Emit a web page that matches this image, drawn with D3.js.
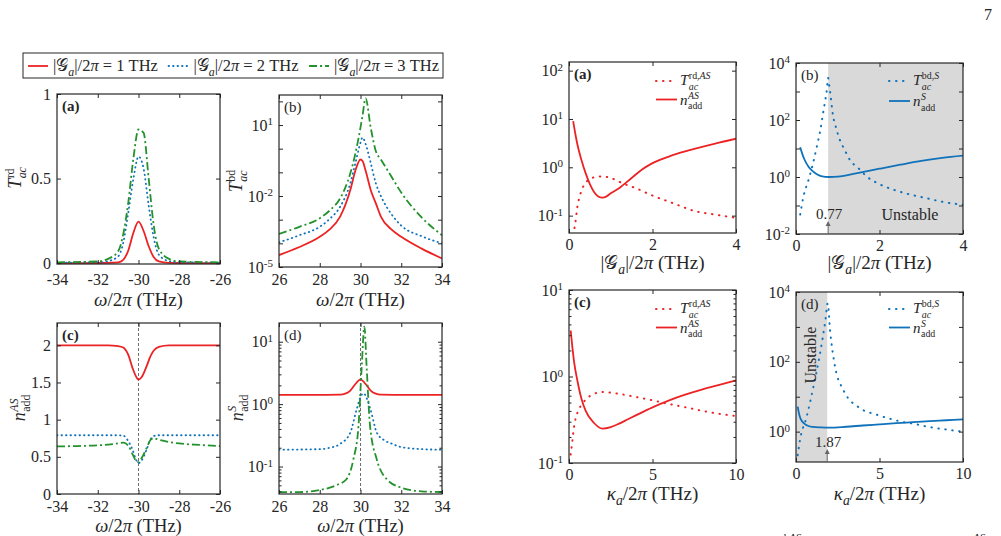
<!DOCTYPE html>
<html>
<head>
<meta charset="utf-8">
<title>Transmission and added noise</title>
<script src="https://cdn.jsdelivr.net/npm/d3@7"></script>
<style>
  body { margin: 0; background: #fff; }
  text { font-family: "Liberation Serif", Times, "Times New Roman", "DejaVu Serif", serif; fill: #262626; }
</style>
</head>
<body>
<svg id="fig" width="1001" height="536"></svg>
<script>
// ---------- data ----------
// left block (a): T_ac^rd vs omega/2pi
const LA_X     = [-34, -32, -31.5, -31, -30.75, -30.5, -30.25, -30, -29.75, -29.5, -29.25, -29, -28.5, -28, -26];
const LA_RED   = [0, 0.001, 0.002, 0.005, 0.02, 0.075, 0.18, 0.245, 0.19, 0.1, 0.035, 0.01, 0.002, 0.001, 0];
const LA_BLUE  = [0.003, 0.005, 0.012, 0.04, 0.12, 0.3, 0.5, 0.63, 0.56, 0.34, 0.15, 0.05, 0.012, 0.005, 0.003];
const LA_GREEN = [0.005, 0.01, 0.025, 0.07, 0.17, 0.36, 0.62, 0.79, 0.77, 0.5, 0.22, 0.085, 0.025, 0.01, 0.005];

// left block (b): T_ac^bd (log)
const LB_X     = [26, 27, 28, 28.5, 29, 29.5, 29.75, 30, 30.1, 30.25, 30.5, 30.75, 31, 31.5, 32, 33, 34];
const LB_RED   = [3.2e-5, 7e-5, 1.9e-4, 4e-4, 1.35e-3, 1.8e-2, 0.12, 0.35, 0.3, 0.12, 1.8e-2, 5e-3, 1.35e-3, 4e-4, 1.9e-4, 6e-5, 2.3e-5];
const LB_BLUE  = [1.1e-4, 2.2e-4, 5e-4, 1.1e-3, 3.5e-3, 3.5e-2, 0.25, 1.8, 3.0, 1.6, 0.25, 3.5e-2, 1e-2, 1.8e-3, 5.6e-4, 2e-4, 1e-4];
const LB_GREEN = [2.5e-4, 5e-4, 1.15e-3, 2.5e-3, 7.9e-3, 9.1e-2, 0.63, 7.9, 25, 135, 7.9, 0.8, 0.35, 7e-2, 1.4e-2, 1.25e-3, 2.2e-4];

// left block (c): n_add^AS
const LC_X     = [-34, -33, -32, -31.5, -31, -30.75, -30.5, -30.3, -30.1, -30, -29.85, -29.6, -29.4, -29.25, -29, -28.5, -28, -27, -26];
const LC_RED   = [2, 2, 2, 2, 1.99, 1.97, 1.87, 1.7, 1.57, 1.54, 1.57, 1.72, 1.86, 1.93, 1.98, 2, 2, 2, 2];
const LC_BLUE  = [0.79, 0.79, 0.79, 0.79, 0.79, 0.785, 0.71, 0.6, 0.45, 0.415, 0.45, 0.6, 0.74, 0.78, 0.79, 0.79, 0.79, 0.79, 0.79];
const LC_GREEN = [0.64, 0.645, 0.655, 0.665, 0.68, 0.69, 0.65, 0.54, 0.44, 0.43, 0.48, 0.62, 0.73, 0.75, 0.73, 0.7, 0.68, 0.66, 0.645];

// left block (d): n_add^S (log)
const LD_RED_X   = [26, 28, 29, 29.25, 29.5, 29.75, 30, 30.25, 30.5, 30.75, 31, 32, 34];
const LD_RED     = [1.41, 1.41, 1.42, 1.47, 1.65, 2.1, 2.5, 2.1, 1.65, 1.47, 1.42, 1.41, 1.41];
const LD_BLUE_X  = [26, 28, 28.5, 29, 29.5, 29.8, 30, 30.15, 30.3, 30.5, 30.8, 31.2, 31.5, 32, 33, 34];
const LD_BLUE    = [0.186, 0.19, 0.2, 0.23, 0.35, 0.8, 1.3, 1.5, 1.25, 0.8, 0.35, 0.26, 0.235, 0.205, 0.19, 0.186];
const LD_GREEN_X = [26, 27, 28, 28.8, 29.3, 29.65, 29.9, 30.06, 30.19, 30.3, 30.47, 30.8, 31.3, 32, 33, 34];
const LD_GREEN   = [0.039, 0.039, 0.042, 0.05, 0.062, 0.13, 0.44, 4, 17.5, 4, 0.44, 0.13, 0.062, 0.046, 0.04, 0.039];

// right block (a): vs |G_a|/2pi
const RA_N_X = [0.1, 0.15, 0.2, 0.3, 0.4, 0.5, 0.6, 0.7, 0.8, 0.9, 1.0, 1.2, 1.5, 1.75, 2, 2.5, 3, 3.5, 4];
const RA_N   = [9, 5, 3, 1.4, 0.75, 0.45, 0.31, 0.25, 0.235, 0.25, 0.29, 0.37, 0.6, 0.9, 1.22, 1.8, 2.4, 3.1, 3.9];
const RA_T_X = [0.1, 0.15, 0.2, 0.3, 0.4, 0.6, 0.8, 1.0, 1.3, 1.6, 2.0, 2.5, 3, 3.5, 4];
const RA_T   = [0.04, 0.07, 0.15, 0.33, 0.48, 0.62, 0.65, 0.6, 0.46, 0.37, 0.26, 0.18, 0.125, 0.105, 0.09];

// right block (b)
const RB_N_X = [0.1, 0.15, 0.2, 0.3, 0.4, 0.5, 0.6, 0.8, 1.0, 1.5, 2, 2.5, 3, 3.5, 4];
const RB_N   = [11, 6.5, 4.2, 2.3, 1.6, 1.25, 1.08, 1.0, 1.03, 1.4, 1.95, 2.7, 3.7, 4.7, 5.6];
const RB_T_X = [0.1, 0.18, 0.3, 0.41, 0.5, 0.57, 0.65, 0.69, 0.74, 0.77, 0.8, 0.82, 0.89, 0.95, 1.05, 1.15, 1.29, 1.5, 1.69, 2, 2.33, 2.7, 3.13, 3.5, 4];
const RB_T   = [0.048, 0.21, 0.8, 3.1, 12, 35, 178, 400, 1200, 3000, 1500, 900, 134, 60, 20, 10, 4, 2, 1.05, 0.56, 0.36, 0.25, 0.18, 0.135, 0.107];

// right block (c): vs kappa_a/2pi
const RC_N_X = [0.1, 0.2, 0.3, 0.5, 0.75, 1, 1.5, 2, 2.5, 3, 3.5, 4, 5, 6, 7, 8, 9, 10];
const RC_N   = [3.4, 2.2, 1.5, 0.9, 0.55, 0.4, 0.29, 0.25, 0.26, 0.285, 0.318, 0.355, 0.44, 0.53, 0.62, 0.71, 0.8, 0.9];
const RC_T_X = [0.1, 0.2, 0.3, 0.5, 0.75, 1, 1.5, 2, 3, 4, 5, 6, 7, 8, 9, 10];
const RC_T   = [0.125, 0.18, 0.26, 0.38, 0.47, 0.54, 0.63, 0.66, 0.63, 0.58, 0.53, 0.48, 0.44, 0.4, 0.37, 0.35];

// right block (d)
const RD_N_X = [0.1, 0.2, 0.3, 0.5, 0.75, 1, 1.5, 2, 3, 4, 5, 6, 7, 8, 9, 10];
const RD_N   = [5.2, 3, 2.2, 1.7, 1.45, 1.37, 1.32, 1.3, 1.38, 1.5, 1.62, 1.75, 1.87, 2.0, 2.12, 2.25];
const RD_T_X = [0.1, 0.24, 0.64, 1.04, 1.44, 1.76, 1.9, 2.04, 2.34, 2.84, 3.83, 4.8, 5.83, 6.5, 7, 7.82, 9, 10];
const RD_T   = [0.21, 0.58, 2.7, 19, 174, 1550, 4700, 800, 72, 15.5, 4.7, 3.1, 2.2, 1.85, 1.7, 1.4, 1.15, 1.0];

// thresholds of the unstable regions
const G_CRIT = 0.77, K_CRIT = 1.87;
const G_LEGEND = ["1", "2", "3"];

// ---------- drawing ----------
const FONT = '"Liberation Serif", Times, "Times New Roman", "DejaVu Serif", serif';
const RED = "#ec2324", BLUE = "#0f72ba", GREEN = "#23922c", AXC = "#262626";
const TL = 4, TLM = 2.5;
const svg = d3.select("#fig");
let clipN = 0;

// text made of tspans: kinds n (roman), i (italic), subi, subn
function rich(parent, x, y, parts, fs) {
  const t = parent.append("text").attr("x", x).attr("y", y).style("font-size", fs + "px").style("font-family", FONT);
  let shift = 0;
  parts.forEach(([s, k]) => {
    const sp = t.append("tspan").text(s);
    let target = 0, size = fs;
    if (k.startsWith("sub")) { target = fs * 0.28; size = fs * 0.72; }
    sp.style("font-style", k.endsWith("i") ? "italic" : "normal").style("font-size", size + "px");
    if (target !== shift) { sp.attr("dy", target - shift); shift = target; }
  });
  return t;
}

// italic base letter with stacked sub and superscript, returns width
function scripted(g, x, y, base, sub, sup, fs) {
  const b = g.append("text").attr("x", x).attr("y", y).style("font-family", FONT)
    .style("font-size", fs + "px").style("font-style", "italic").text(base);
  const w = b.node().getComputedTextLength();
  let m = 0;
  [[sub, fs * 0.3], [sup, -fs * 0.4]].forEach(([pp, dy]) => {
    const t = g.append("text").attr("x", x + w + 0.5).attr("y", y + dy)
      .style("font-family", FONT).style("font-size", (fs * 0.66) + "px");
    pp.forEach(([str, it]) => t.append("tspan").style("font-style", it ? "italic" : "normal").text(str));
    m = Math.max(m, t.node().getComputedTextLength());
  });
  return w + 0.5 + m;
}

function centered(cx, cy, rot, build) {
  const g = svg.append("g").attr("transform", `translate(${cx},${cy}) rotate(${rot})`);
  const inner = g.append("g");
  const w = build(inner);
  inner.attr("transform", `translate(${-w / 2},0)`);
}

function minors(a, b) { const r = []; for (let e = a; e <= b; e++) for (let k = 2; k <= 9; k++) r.push(k * Math.pow(10, e)); return r; }

function panel(o) {
  const x = d3.scaleLinear().domain(o.xDom).range([o.left, o.left + o.w]);
  const y = (o.log ? d3.scaleLog() : d3.scaleLinear()).domain(o.yDom).range([o.top + o.h, o.top]);
  const id = "clip" + (clipN++);
  svg.append("clipPath").attr("id", id).append("rect")
    .attr("x", o.left).attr("y", o.top).attr("width", o.w).attr("height", o.h);
  const g = svg.append("g");
  if (o.shade) g.append("rect").attr("x", x(o.shade[0])).attr("y", o.top)
    .attr("width", x(o.shade[1]) - x(o.shade[0])).attr("height", o.h).attr("fill", "#d9d9d9");
  if (o.vline != null) g.append("line").attr("x1", x(o.vline)).attr("x2", x(o.vline))
    .attr("y1", o.top).attr("y2", o.top + o.h)
    .attr("stroke", "#6e6e6e").attr("stroke-width", 1).attr("stroke-dasharray", "3,2");

  const line = d3.line().x(d => x(d[0])).y(d => y(d[1])).curve(d3.curveMonotoneX);
  o.series.forEach(s => {
    g.append("path").datum(s.x.map((v, i) => [v, s.y[i]]))
      .attr("d", line).attr("clip-path", `url(#${id})`)
      .attr("fill", "none").attr("stroke", s.color).attr("stroke-width", s.sw || 1.8)
      .attr("stroke-dasharray", s.dash || null)
      .attr("stroke-linecap", s.dot ? "round" : "butt");
  });

  const styleAx = a => a.attr("font-family", FONT).attr("font-size", 16).attr("color", AXC)
    .call(q => q.select(".domain").remove());
  svg.append("g").attr("transform", `translate(0,${o.top + o.h})`)
    .call(d3.axisBottom(x).tickValues(o.xt).tickSize(-TL).tickPadding(o.xpad || 9).tickFormat(d => String(d)))
    .call(styleAx);
  svg.append("g").attr("transform", `translate(0,${o.top})`)
    .call(d3.axisTop(x).tickValues(o.xt).tickSize(-TL).tickFormat(""))
    .call(styleAx);
  const yl = svg.append("g").attr("transform", `translate(${o.left},0)`)
    .call(d3.axisLeft(y).tickValues(o.yt).tickSize(-TL).tickPadding(6).tickFormat(o.log ? () => "" : d => String(d)))
    .call(styleAx);
  if (o.log) yl.selectAll(".tick text").each(function (d) {
    const t = d3.select(this);
    t.append("tspan").text("10");
    t.append("tspan").attr("dy", "-0.5em").style("font-size", "11px").text(String(Math.round(Math.log10(d))));
  });
  if (o.ymaj) svg.append("g").attr("transform", `translate(${o.left},0)`)
    .call(d3.axisLeft(y).tickValues(o.ymaj).tickSize(-TL).tickFormat("")).call(styleAx);
  if (o.ymin) svg.append("g").attr("transform", `translate(${o.left},0)`)
    .call(d3.axisLeft(y).tickValues(o.ymin).tickSize(-TLM).tickFormat("")).call(styleAx);
  svg.append("g").attr("transform", `translate(${o.left + o.w},0)`)
    .call(d3.axisRight(y).tickValues(o.yt.concat(o.ymaj || [])).tickSize(-TL).tickFormat("")).call(styleAx);
  if (o.ymin) svg.append("g").attr("transform", `translate(${o.left + o.w},0)`)
    .call(d3.axisRight(y).tickValues(o.ymin).tickSize(-TLM).tickFormat("")).call(styleAx);

  svg.append("rect").attr("x", o.left).attr("y", o.top).attr("width", o.w).attr("height", o.h)
    .attr("fill", "none").attr("stroke", AXC).attr("stroke-width", 1.2);
  svg.append("text").attr("x", o.left + 5).attr("y", o.top + 17).style("font-family", FONT)
    .style("font-size", "15px").style("font-weight", o.bold ? "bold" : "normal").text(o.tag);
  if (o.extra) o.extra(x, y);
  return { x, y };
}

const dotL = { dash: "0.5,4", dot: true };
const dotR = { dash: "0.5,6.5", dot: true, sw: 2 };
const dashDot = { dash: "8,3,2,3" };

// ----- left block -----
panel({ left: 57, top: 94, w: 163, h: 170, xDom: [-34, -26], yDom: [-0.005, 1],
  xt: [-34, -32, -30, -28, -26], yt: [0, 0.5, 1], tag: "(a)", bold: true, xpad: 10,
  series: [
    { x: LA_X, y: LA_RED, color: RED },
    Object.assign({ x: LA_X, y: LA_BLUE, color: BLUE }, dotL),
    Object.assign({ x: LA_X, y: LA_GREEN, color: GREEN }, dashDot)
  ] });
panel({ left: 279, top: 95, w: 163, h: 172, xDom: [26, 34], yDom: [1e-5, 186], log: true,
  xt: [26, 28, 30, 32, 34], yt: [1e-5, 1e-2, 10], ymaj: [1e-4, 1e-3, 0.1, 1, 100], tag: "(b)", xpad: 7,
  series: [
    { x: LB_X, y: LB_RED, color: RED },
    Object.assign({ x: LB_X, y: LB_BLUE, color: BLUE }, dotL),
    Object.assign({ x: LB_X, y: LB_GREEN, color: GREEN }, dashDot)
  ] });
panel({ left: 57, top: 323, w: 163, h: 171, xDom: [-34, -26], yDom: [0, 2.3],
  xt: [-34, -32, -30, -28, -26], yt: [0, 0.5, 1, 1.5, 2], tag: "(c)", bold: true, vline: -30, xpad: 7,
  series: [
    { x: LC_X, y: LC_RED, color: RED },
    Object.assign({ x: LC_X, y: LC_BLUE, color: BLUE }, dotL),
    Object.assign({ x: LC_X, y: LC_GREEN, color: GREEN }, dashDot)
  ] });
panel({ left: 279, top: 323, w: 163, h: 171, xDom: [26, 34], yDom: [0.0363, 19.95], log: true,
  xt: [26, 28, 30, 32, 34], yt: [0.1, 1, 10], ymin: minors(-2, 1).filter(v => v > 0.0363 && v < 19.95),
  tag: "(d)", vline: 30, xpad: 7,
  series: [
    { x: LD_RED_X, y: LD_RED, color: RED },
    Object.assign({ x: LD_BLUE_X, y: LD_BLUE, color: BLUE }, dotL),
    Object.assign({ x: LD_GREEN_X, y: LD_GREEN, color: GREEN }, dashDot)
  ] });

// ----- right block -----
function legend2(x0, y1, y2, color, supT, supN) {
  const g = svg.append("g");
  g.append("line").attr("x1", x0).attr("x2", x0 + 21).attr("y1", y1).attr("y2", y1)
    .attr("stroke", color).attr("stroke-width", 2).attr("stroke-dasharray", "0.5,6.5").attr("stroke-linecap", "round");
  g.append("line").attr("x1", x0).attr("x2", x0 + 21).attr("y1", y2).attr("y2", y2)
    .attr("stroke", color).attr("stroke-width", 1.8);
  scripted(g, x0 + 24, y1 + 4, "T", [["ac", true]], supT, 15);
  scripted(g, x0 + 24, y2 + 5, "n", [["add", false]], supN, 15);
}
function arrowNote(x, yb, label) {
  svg.append("line").attr("x1", x).attr("x2", x).attr("y1", yb).attr("y2", yb - 11)
    .attr("stroke", "#666").attr("stroke-width", 1);
  svg.append("path").attr("d", `M${x - 2.5},${yb - 8}L${x},${yb - 13}L${x + 2.5},${yb - 8}Z`).attr("fill", "#666");
  svg.append("text").attr("x", x + 1).attr("y", yb - 15).attr("text-anchor", "middle").style("font-family", FONT)
    .style("font-size", "15px").text(label);
}

panel({ left: 569, top: 62, w: 167, h: 171, xDom: [0, 4], yDom: [0.0437, 151], log: true,
  xt: [0, 2, 4], yt: [0.1, 1, 10, 100], tag: "(a)", bold: true, xpad: 6,
  series: [
    Object.assign({ x: RA_T_X, y: RA_T, color: RED }, dotR),
    { x: RA_N_X, y: RA_N, color: RED }
  ],
  extra: () => legend2(656, 81, 99.5, RED, [["rd,", false], ["AS", true]], [["AS", true]]) });
panel({ left: 796, top: 63, w: 167, h: 171, xDom: [0, 4], yDom: [1e-2, 1e4], log: true,
  xt: [0, 2, 4], yt: [1e-2, 1, 100, 1e4], ymaj: [0.1, 10, 1000], tag: "(b)", xpad: 6,
  shade: [G_CRIT, 4],
  series: [
    Object.assign({ x: RB_T_X, y: RB_T, color: BLUE }, dotR),
    { x: RB_N_X, y: RB_N, color: BLUE }
  ],
  extra: (x, y) => {
    legend2(889, 81, 101, BLUE, [["bd,", false], ["S", true]], [["S", true]]);
    arrowNote(x(G_CRIT), 234, String(G_CRIT));
    svg.append("text").attr("x", 910).attr("y", 220).attr("text-anchor", "middle").style("font-family", FONT)
      .style("font-size", "16px").text("Unstable");
  } });
panel({ left: 569, top: 290, w: 167, h: 173, xDom: [0, 10], yDom: [0.1, 10], log: true,
  xt: [0, 5, 10], yt: [0.1, 1, 10], ymin: minors(-1, 0), tag: "(c)", bold: true, xpad: 6,
  series: [
    Object.assign({ x: RC_T_X, y: RC_T, color: RED }, dotR),
    { x: RC_N_X, y: RC_N, color: RED }
  ],
  extra: () => legend2(656, 309, 327.5, RED, [["rd,", false], ["AS", true]], [["AS", true]]) });
panel({ left: 796, top: 292, w: 167, h: 170, xDom: [0, 10], yDom: [0.135, 1e4], log: true,
  xt: [0, 5, 10], yt: [1, 100, 1e4], ymaj: [10, 1000], tag: "(d)", xpad: 6,
  shade: [0, K_CRIT],
  series: [
    Object.assign({ x: RD_T_X, y: RD_T, color: BLUE }, dotR),
    { x: RD_N_X, y: RD_N, color: BLUE }
  ],
  extra: (x, y) => {
    legend2(889, 309, 327.5, BLUE, [["bd,", false], ["S", true]], [["S", true]]);
    arrowNote(x(K_CRIT), 462, String(K_CRIT));
    svg.append("text").attr("transform", "translate(816,355) rotate(-90)").attr("text-anchor", "middle")
      .style("font-family", FONT).style("font-size", "16px").text("Unstable");
  } });

// ----- axis titles -----
const XW = [["ω", "i"], ["/2", "n"], ["π", "i"], [" (THz)", "n"]];
const XG = [["|", "n"], ["𝒢", "n"], ["a", "subi"], ["|/2", "n"], ["π", "i"], [" (THz)", "n"]];
const XK = [["κ", "i"], ["a", "subi"], ["/2", "n"], ["π", "i"], [" (THz)", "n"]];
[[138.5, 306, XW, 19], [360.5, 306, XW, 19], [138.5, 532, XW, 18.5], [360.5, 532, XW, 18.5],
 [652.5, 269, XG, 19], [879.5, 269, XG, 19], [652.5, 500, XK, 19], [879.5, 500, XK, 19]].forEach(([cx, cy, parts, fs]) =>
  rich(svg, cx, cy, parts, fs).attr("text-anchor", "middle"));

centered(21, 178, -90, g => scripted(g, 0, 0, "T", [["ac", true]], [["rd", false]], 18));
centered(242, 181, -90, g => scripted(g, 0, 0, "T", [["ac", true]], [["bd", false]], 18));
centered(25, 408, -90, g => scripted(g, 0, 0, "n", [["add", false]], [["AS", true]], 18));
centered(243, 408, -90, g => scripted(g, 0, 0, "n", [["add", false]], [["S", true]], 18));

// ----- top-left legend -----
(function () {
  const g = svg.append("g");
  const styles = [{ color: RED }, Object.assign({ color: BLUE }, dotL), Object.assign({ color: GREEN }, dashDot)];
  const yc = 66, x0 = 28, x1 = 439;
  const items = G_LEGEND.map((v, i) => {
    const s = styles[i];
    const ln = g.append("line").attr("y1", yc).attr("y2", yc)
      .attr("stroke", s.color).attr("stroke-width", 1.8)
      .attr("stroke-dasharray", s.dash || null).attr("stroke-linecap", s.dot ? "round" : "butt");
    const t = rich(g, 0, yc + 5, [["|", "n"], ["𝒢", "n"], ["a", "subi"], ["|/2", "n"], ["π", "i"], [" = " + v + " THz", "n"]], 16.5);
    return { ln, t, w: t.node().getComputedTextLength() };
  });
  const used = d3.sum(items, d => 20 + 5 + d.w);
  const gap = (x1 - x0 - used) / (items.length - 1);
  let xc = x0;
  items.forEach(d => {
    d.ln.attr("x1", xc).attr("x2", xc + 20);
    d.t.attr("x", xc + 25);
    xc += 25 + d.w + gap;
  });
  g.append("rect").attr("x", 23).attr("y", 53).attr("width", 420).attr("height", 25)
    .attr("fill", "none").attr("stroke", AXC).attr("stroke-width", 1);
})();

// page number and the clipped caption line at the bottom
svg.append("text").attr("x", 988).attr("y", 20).attr("text-anchor", "middle").style("font-family", FONT)
  .style("font-size", "16px").text("7");
rich(svg, 777, 541, [["rd,", "n"], ["AS", "i"]], 11);
rich(svg, 973, 541, [["AS", "i"]], 11);
</script>
</body>
</html>
